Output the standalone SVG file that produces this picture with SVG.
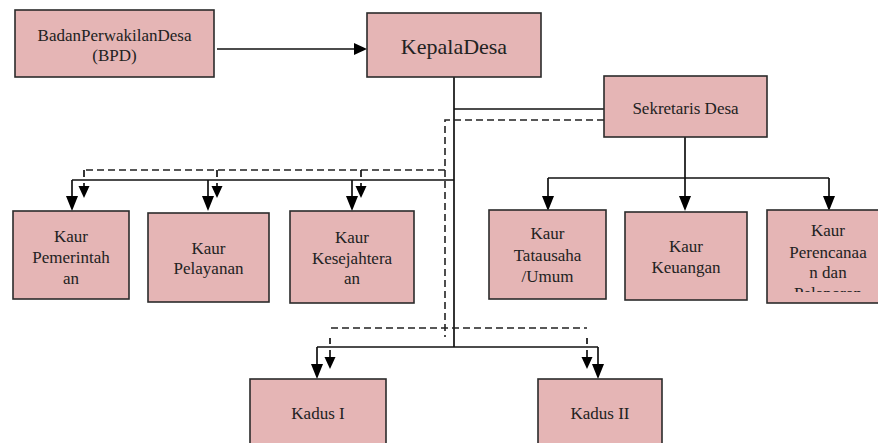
<svg xmlns="http://www.w3.org/2000/svg" width="878" height="443" viewBox="0 0 878 443">
<style>
.box{fill:#E5B5B5;stroke:#2b2b2b;stroke-width:1.6}
.t{font-family:'Liberation Serif','DejaVu Serif',serif;font-size:17px;fill:#222;text-anchor:middle;dominant-baseline:central}
.big{font-size:22px}
.ln{fill:none;stroke:#111;stroke-width:1.7}
.ds{fill:none;stroke:#222;stroke-width:1.6;stroke-dasharray:7 4}
.ah{fill:#000}
</style>
<defs>
<clipPath id="clipPer"><rect x="767" y="210" width="122" height="82"/></clipPath>
</defs>
<rect width="878" height="443" fill="#fff"/>
<g id="connectors">
<line class="ln" x1="217" y1="49" x2="356" y2="49"/>
<polygon class="ah" points="367,49 354,43 354,55"/>
<line class="ln" x1="454" y1="77" x2="454" y2="347"/>
<line class="ln" x1="454" y1="109" x2="604" y2="109"/>
<polyline class="ds" points="604,120 445,120 445,337"/>
<line class="ds" x1="445" y1="170" x2="84" y2="170"/>
<line class="ds" x1="331" y1="328" x2="587" y2="328"/>
<line class="ln" x1="72" y1="180" x2="454" y2="180"/>
<line class="ln" x1="72" y1="180" x2="72" y2="198"/>
<polygon class="ah" points="72,211 66,196 78,196"/>
<line class="ln" x1="208" y1="180" x2="208" y2="198"/>
<polygon class="ah" points="208,211 202,196 214,196"/>
<line class="ln" x1="352" y1="180" x2="352" y2="198"/>
<polygon class="ah" points="352,211 346,196 358,196"/>
<line class="ln" x1="84" y1="170" x2="84" y2="177"/>
<line class="ln" x1="84" y1="183" x2="84" y2="188"/>
<polygon class="ah" points="84,198 78.5,186 89.5,186"/>
<line class="ln" x1="217" y1="170" x2="217" y2="177"/>
<line class="ln" x1="217" y1="183" x2="217" y2="188"/>
<polygon class="ah" points="217,198 211.5,186 222.5,186"/>
<line class="ln" x1="361" y1="170" x2="361" y2="177"/>
<line class="ln" x1="361" y1="183" x2="361" y2="188"/>
<polygon class="ah" points="361,198 355.5,186 366.5,186"/>
<line class="ln" x1="685" y1="137" x2="685" y2="198"/>
<polygon class="ah" points="685,211 679,196 691,196"/>
<line class="ln" x1="548" y1="178" x2="829" y2="178"/>
<line class="ln" x1="548" y1="178" x2="548" y2="198"/>
<polygon class="ah" points="548,211 542,196 554,196"/>
<line class="ln" x1="829" y1="178" x2="829" y2="198"/>
<polygon class="ah" points="829,211 823,196 835,196"/>
<line class="ln" x1="317" y1="347" x2="598" y2="347"/>
<line class="ln" x1="317" y1="347" x2="317" y2="366"/>
<polygon class="ah" points="317,379 311,364 323,364"/>
<line class="ln" x1="598" y1="347" x2="598" y2="366"/>
<polygon class="ah" points="598,379 592,364 604,364"/>
<line class="ln" x1="330" y1="338" x2="330" y2="344"/>
<line class="ln" x1="330" y1="350" x2="330" y2="358"/>
<polygon class="ah" points="330,369 324.5,357 335.5,357"/>
<line class="ln" x1="587" y1="338" x2="587" y2="344"/>
<line class="ln" x1="587" y1="350" x2="587" y2="358"/>
<polygon class="ah" points="587,369 581.5,357 592.5,357"/>
</g>
<g id="bpd">
<rect class="box" x="15" y="10" width="199" height="67"/>
<text class="t" x="114.5" y="35">BadanPerwakilanDesa</text>
<text class="t" x="114.5" y="55">(BPD)</text>
</g>
<g id="kepala">
<rect class="box" x="367" y="13" width="174" height="64"/>
<text class="t big" x="454" y="46">KepalaDesa</text>
</g>
<g id="sekretaris">
<rect class="box" x="604" y="76" width="163" height="61"/>
<text class="t" x="685.5" y="108">Sekretaris Desa</text>
</g>
<g id="kaur-pemerintahan">
<rect class="box" x="13" y="211" width="116" height="88"/>
<text class="t" x="71" y="236">Kaur</text>
<text class="t" x="71" y="257">Pemerintah</text>
<text class="t" x="71" y="278">an</text>
</g>
<g id="kaur-pelayanan">
<rect class="box" x="148" y="213" width="121" height="89"/>
<text class="t" x="208.5" y="248">Kaur</text>
<text class="t" x="208.5" y="268">Pelayanan</text>
</g>
<g id="kaur-kesejahteraan">
<rect class="box" x="290" y="211" width="124" height="92"/>
<text class="t" x="352" y="237">Kaur</text>
<text class="t" x="352" y="258">Kesejahtera</text>
<text class="t" x="352" y="278">an</text>
</g>
<g id="kaur-tatausaha">
<rect class="box" x="489" y="210" width="117" height="89"/>
<text class="t" x="547.5" y="233">Kaur</text>
<text class="t" x="547.5" y="255">Tatausaha</text>
<text class="t" x="547.5" y="276">/Umum</text>
</g>
<g id="kaur-keuangan">
<rect class="box" x="625" y="212" width="122" height="88"/>
<text class="t" x="686" y="246">Kaur</text>
<text class="t" x="686" y="267">Keuangan</text>
</g>
<g id="kaur-perencanaan">
<rect class="box" x="767" y="210" width="122" height="93"/>
<g clip-path="url(#clipPer)">
<text class="t" x="828" y="230">Kaur</text>
<text class="t" x="828" y="252">Perencanaa</text>
<text class="t" x="828" y="272">n dan</text>
<text class="t" x="828" y="293">Pelaporan</text>
</g>
</g>
<g id="kadus-1">
<rect class="box" x="250" y="379" width="136" height="70"/>
<text class="t" x="318" y="413">Kadus I</text>
</g>
<g id="kadus-2">
<rect class="box" x="538" y="379" width="124" height="70"/>
<text class="t" x="600" y="413">Kadus II</text>
</g>
</svg>
